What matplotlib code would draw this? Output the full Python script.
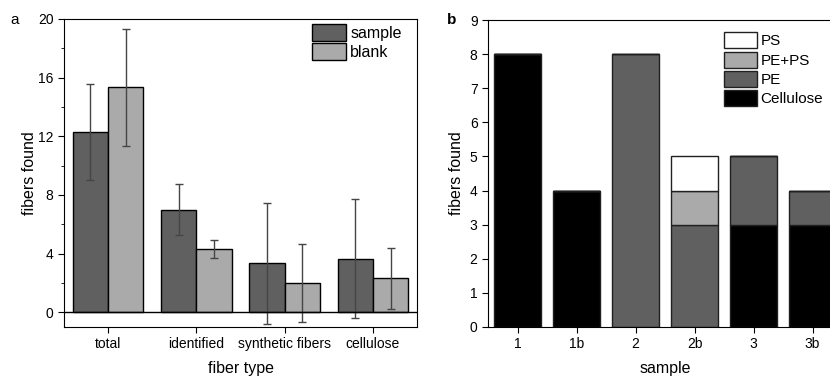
import matplotlib
matplotlib.use("Agg")
import matplotlib.pyplot as plt
import numpy as np
from matplotlib.ticker import MultipleLocator

plt.rcParams['font.family'] = ['Liberation Sans', 'DejaVu Sans']

# panel a data
fiber_types = ["total", "identified", "synthetic fibers", "cellulose"]
sample_mean = [12.3, 7.0, 3.33, 3.67]
sample_err = [3.25, 1.75, 4.15, 4.03]
blank_mean = [15.33, 4.33, 2.0, 2.33]
blank_err = [4.0, 0.6, 2.67, 2.08]

# panel b data
samples = ["1", "1b", "2", "2b", "3", "3b"]
cellulose = [8, 4, 0, 0, 3, 3]
pe = [0, 0, 8, 3, 2, 1]
pe_ps = [0, 0, 0, 1, 0, 0]
ps = [0, 0, 0, 1, 0, 0]

DARK = "#606060"
LIGHT = "#aaaaaa"

fig = plt.figure(figsize=(8.3, 3.77), dpi=100)

# ---- panel a ----
ax1 = fig.add_axes([64 / 830, 50 / 377, 353 / 830, 308 / 377])
x = np.arange(len(fiber_types))
w = 0.4
err_kw = dict(ecolor="#454545", elinewidth=1.0, capsize=3, capthick=1.0)
ax1.bar(x - w / 2, sample_mean, w, yerr=sample_err, color=DARK,
        edgecolor="black", linewidth=1.0, label="sample", error_kw=err_kw)
ax1.bar(x + w / 2, blank_mean, w, yerr=blank_err, color=LIGHT,
        edgecolor="black", linewidth=1.0, label="blank", error_kw=err_kw)
ax1.axhline(0, color="black", linewidth=1.0)
ax1.set_xlim(-0.5, 3.5)
ax1.set_ylim(-1, 20)
ax1.set_xticks(x)
ax1.set_xticklabels(fiber_types)
ax1.yaxis.set_major_locator(MultipleLocator(4))
ax1.yaxis.set_minor_locator(MultipleLocator(2))
ax1.tick_params(axis="both", which="major", direction="out", length=4,
                labelsize=10)
ax1.tick_params(axis="y", which="minor", direction="out", length=2.5)
ax1.set_xlabel("fiber type", fontsize=11.5, labelpad=7)
ax1.set_ylabel("fibers found", fontsize=11.5, labelpad=1)
ax1.legend(loc="upper left", bbox_to_anchor=((312 - 64) / 353, 0.985),
           frameon=False, fontsize=11.5, handlelength=2.15, handleheight=1.3,
           borderaxespad=0, borderpad=0, handletextpad=0.25,
           labelspacing=0.1)
fig.text(10 / 830, 1 - 20 / 377, "a", fontsize=11, va="center")

# ---- panel b ----
ax2 = fig.add_axes([488 / 830, 50 / 377, 354 / 830, 307 / 377])
xb = np.arange(len(samples))
wb = 0.8
bar_kw = dict(edgecolor="#202020", linewidth=1.0)
ax2.bar(xb, cellulose, wb, color="black", label="Cellulose", **bar_kw)
ax2.bar(xb, pe, wb, bottom=cellulose, color=DARK, label="PE", **bar_kw)
bottom2 = np.array(cellulose) + np.array(pe)
ax2.bar(xb, pe_ps, wb, bottom=bottom2, color=LIGHT, label="PE+PS", **bar_kw)
bottom3 = bottom2 + np.array(pe_ps)
ax2.bar(xb, ps, wb, bottom=bottom3, color="white", label="PS", **bar_kw)
ax2.set_xlim(-0.5, 5.5)
ax2.set_ylim(0, 9)
ax2.set_xticks(xb)
ax2.set_xticklabels(samples)
ax2.yaxis.set_major_locator(MultipleLocator(1))
ax2.tick_params(axis="both", direction="out", length=4, labelsize=10)
ax2.set_xlabel("sample", fontsize=11.5, labelpad=7)
ax2.set_ylabel("fibers found", fontsize=11.5, labelpad=4)
handles, labels = ax2.get_legend_handles_labels()
ax2.legend(handles[::-1], labels[::-1], loc="upper left",
           bbox_to_anchor=((724 - 488) / 354, 0.96),
           frameon=False, fontsize=11, handlelength=2.15, handleheight=1.25,
           borderaxespad=0, borderpad=0, handletextpad=0.25,
           labelspacing=0.2)
fig.text(447 / 830, 1 - 20 / 377, "b", fontsize=11, va="center",
         fontweight="bold")

fig.savefig("out.png", dpi=100)
